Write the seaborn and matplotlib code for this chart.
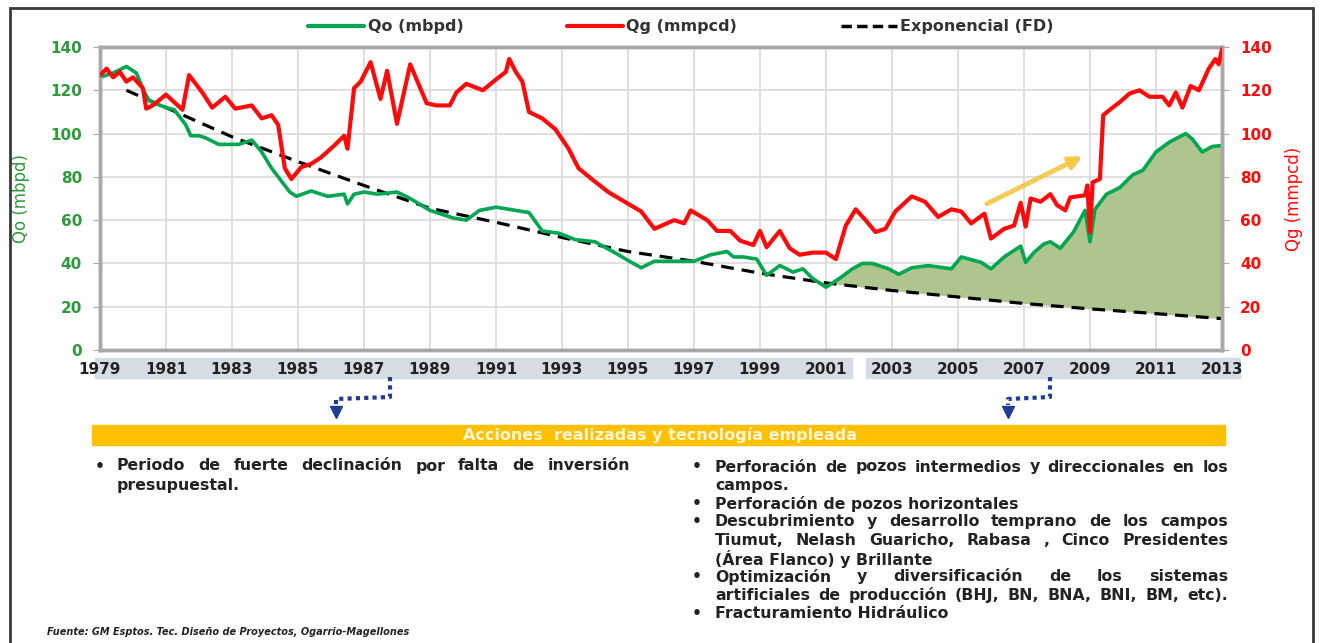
import numpy as np
import pandas as pd
import matplotlib
matplotlib.use("Agg")
import matplotlib.pyplot as plt
import seaborn as sns
from matplotlib.lines import Line2D
from matplotlib.patches import Rectangle

# Qo (mbpd)
qo_year = [1979.0, 1979.4, 1979.8, 1980.1, 1980.35, 1980.5, 1981.0, 1981.25, 1981.6, 1981.75,
           1982.0, 1982.2, 1982.6, 1983.2, 1983.6, 1983.9, 1984.2, 1984.5, 1984.75, 1984.95,
           1985.4, 1985.9, 1986.4, 1986.5, 1986.7, 1987.0, 1987.4, 1988.0, 1988.4, 1989.0,
           1989.7, 1990.1, 1990.5, 1991.0, 1991.4, 1991.8, 1992.0, 1992.4, 1992.9, 1993.4,
           1994.0, 1994.6, 1995.1, 1995.4, 1995.8, 1996.3, 1997.0, 1997.5, 1998.0, 1998.2,
           1998.5, 1998.9, 1999.2, 1999.6, 2000.0, 2000.3, 2000.6, 2001.0, 2001.4, 2001.8,
           2002.1, 2002.4, 2002.9, 2003.2, 2003.6, 2004.1, 2004.8, 2005.1, 2005.7, 2006.0,
           2006.4, 2006.9, 2007.05, 2007.3, 2007.6, 2007.8, 2008.1, 2008.5, 2008.85, 2009.0,
           2009.15, 2009.5, 2009.9, 2010.3, 2010.6, 2011.0, 2011.4, 2011.9, 2012.1, 2012.4,
           2012.7, 2013.0]
qo_vals = [126, 128, 131, 128, 119, 115, 112, 111, 104, 99,
           99, 98, 95, 95, 97, 91.5, 84, 78, 73, 71,
           73.5, 71, 72, 67.5, 72, 73, 72, 73, 70, 64.5,
           61, 60, 64.5, 66, 65, 64, 63.5, 55, 54, 51,
           50, 45, 40.5, 38, 41, 41, 41, 44, 45.5, 43,
           43, 42, 34.5, 39, 36, 37.5, 33, 29, 33, 37.5,
           40, 40, 37.5, 35, 38, 39, 37.5, 43, 40.5, 37.5,
           43, 48, 40.5, 45, 49, 50, 47, 54.5, 64.5, 50,
           65, 72, 75, 81, 83, 91.5, 96, 100, 97.5, 91.5,
           94, 94.5]

# Qg (mmpcd)
qg_year = [1979.0, 1979.2, 1979.4, 1979.6, 1979.8, 1980.0, 1980.3, 1980.4, 1980.6, 1981.0,
           1981.25, 1981.5, 1981.7, 1982.1, 1982.4, 1982.8, 1983.1, 1983.6, 1983.9, 1984.2,
           1984.4, 1984.6, 1984.8, 1985.1, 1985.4, 1985.7, 1986.1, 1986.4, 1986.5, 1986.7,
           1986.9, 1987.2, 1987.5, 1987.7, 1988.0, 1988.4, 1988.9, 1989.2, 1989.6, 1989.8,
           1990.1, 1990.6, 1991.0, 1991.3, 1991.4, 1991.6, 1991.8, 1992.0, 1992.4, 1992.8,
           1993.2, 1993.5, 1993.9, 1994.4, 1994.9, 1995.4, 1995.8, 1996.1, 1996.4, 1996.7,
           1996.9, 1997.4, 1997.7, 1998.1, 1998.4, 1998.8, 1999.0, 1999.2, 1999.6, 1999.9,
           2000.2, 2000.6, 2001.0, 2001.3, 2001.6, 2001.9, 2002.2, 2002.5, 2002.8, 2003.1,
           2003.6, 2004.0, 2004.4, 2004.8, 2005.1, 2005.4, 2005.8, 2006.0, 2006.4, 2006.7,
           2006.9, 2007.05, 2007.2, 2007.5, 2007.8, 2008.0, 2008.25, 2008.4, 2008.85, 2008.92,
           2009.0, 2009.08, 2009.3, 2009.4, 2009.6, 2009.9, 2010.2, 2010.5, 2010.8, 2011.2,
           2011.4, 2011.6, 2011.8, 2012.05, 2012.3, 2012.6, 2012.8, 2012.9, 2013.0]
qg_vals = [127, 130, 126, 128.5, 124, 126, 121, 111.5, 113, 118,
           114.5, 111, 127, 119, 112, 117, 111.5, 113, 107, 108.5,
           104, 84, 79, 84.5, 86, 89, 94.5, 99, 93, 121,
           124, 133, 116, 129, 104.5, 132, 114, 113, 113, 119,
           123, 120, 125, 128.5, 134.5, 128.5, 124, 110, 107, 102,
           93, 84, 79, 73, 68.5, 64, 56, 58, 60, 58.5,
           64.5, 60, 55, 55, 50.5, 48.5, 55, 47.5, 55, 47,
           44, 45, 45, 42, 57.5, 65, 60, 54.5, 56, 64,
           71, 68.5, 61.5, 65, 64, 58.5, 63, 51.5, 56, 57.5,
           68, 57, 70, 68.5, 72, 67, 64.5, 70.5, 71.5, 76,
           54.5, 77.5, 79, 108.5, 111, 114.5, 118.5, 120, 117, 117,
           113, 119, 112, 122, 120, 130, 134.5, 132, 139]

# Exponencial (FD)
exp_year = [1979.8, 1981, 1983, 1985, 1987, 1989, 1991, 1993, 1995, 1997,
            1999, 2001, 2003, 2005, 2007, 2009, 2011, 2013]
exp_vals = [120, 112, 98.5, 87, 76, 65.5, 59, 52, 45.5, 41,
            35.5, 31, 27.5, 24.5, 21.5, 19, 16.8, 14.5]

legend_labels = ["Qo (mbpd)", "Qg (mmpcd)", "Exponencial (FD)"]
year_ticks = list(range(1979, 2014, 2))
rate_ticks = list(range(0, 141, 20))

GREEN = "#00a650"
GREEN_TXT = "#2f9a3c"
RED = "#ff0a0a"
FILL = "#aec58e"
NAVY = "#1f3c94"
W, H = 1320, 643


def fx(px):
    return px / W


def fy(py):
    return 1 - py / H


sns.set_style("white")
plt.rcParams["font.family"] = ["DejaVu Sans"]

fig = plt.figure(figsize=(13.2, 6.43), dpi=100)
ax = fig.add_axes([fx(100), fy(350), (1222 - 100) / W, (350 - 47) / H])
ax2 = ax.twinx()

qo_df = pd.DataFrame({"year": qo_year, "qo": qo_vals})
qg_df = pd.DataFrame({"year": qg_year, "qg": qg_vals})
exp_df = pd.DataFrame({"year": exp_year, "exp": exp_vals})

# area between production and the decline curve after 2001
exp_on_qo = np.interp(qo_df["year"], exp_df["year"], exp_df["exp"])
ax.fill_between(qo_df["year"], exp_on_qo, qo_df["qo"],
                where=qo_df["year"] >= 2001.2, interpolate=True,
                color=FILL, lw=0, zorder=1)

sns.lineplot(data=exp_df, x="year", y="exp", ax=ax, color="black", lw=2.3,
             linestyle=(0, (4, 2.5)), zorder=3, legend=False)
sns.lineplot(data=qo_df, x="year", y="qo", ax=ax, color=GREEN, lw=2.6,
             zorder=4, legend=False)
sns.lineplot(data=qg_df, x="year", y="qg", ax=ax2, color=RED, lw=3,
             zorder=4, legend=False)

ax.set_xlim(1979, 2013)
ax.set_ylim(0, 140)
ax2.set_ylim(0, 140)
ax.set_xticks(year_ticks)
ax.set_yticks(rate_ticks)
ax2.set_yticks(rate_ticks)
ax.grid(True, color="#d9d9d9", lw=1.2)
ax.set_axisbelow(True)
for a in (ax, ax2):
    for s in a.spines.values():
        s.set_color("#a8a8a8")
        s.set_linewidth(2.5)

ax.tick_params(axis="x", length=0, pad=9, labelsize=11, labelcolor="#222222")
ax.tick_params(axis="y", length=5, color="#a8a8a8", pad=8, labelsize=11, labelcolor=GREEN_TXT)
ax2.tick_params(axis="y", length=5, color="#a8a8a8", pad=8, labelsize=11, labelcolor=RED)
for lab in ax.get_xticklabels() + ax.get_yticklabels() + ax2.get_yticklabels():
    lab.set_fontweight("bold")

ax.set_xlabel("")
ax.set_ylabel("Qo (mbpd)", color=GREEN_TXT, fontsize=12)
ax.yaxis.set_label_coords(-0.062, 0.5)
ax2.set_ylabel("Qg (mmpcd)", color=RED, fontsize=12)
ax2.yaxis.set_label_coords(1.056, 0.5)

# yellow arrow
ax.annotate("", xy=(2008.85, 90), xytext=(2005.8, 67),
            arrowprops=dict(arrowstyle="-|>", color="#f2c744", lw=3.5,
                            mutation_scale=18, alpha=0.9), zorder=5)

handles = [Line2D([], [], color=GREEN, lw=3),
           Line2D([], [], color=RED, lw=3),
           Line2D([], [], color="black", lw=2.5, linestyle=(0, (3, 1.5)))]
fig.legend(handles, legend_labels, loc="center", bbox_to_anchor=(fx(681), fy(27)),
           ncol=3, frameon=False, handlelength=3.5, handletextpad=0.2,
           columnspacing=6.5, prop=dict(weight="bold", size=11.5),
           labelcolor="#333333")

# band behind the year labels
for x0, x1 in [(95, 852), (866, 1240)]:
    fig.add_artist(Rectangle((fx(x0), fy(378)), fx(x1) - fx(x0), 20 / H,
                             transform=fig.transFigure, color="#d6dce4", zorder=-1))

# dotted elbow arrows
for xa, xb in [(390, 336), (1050, 1008)]:
    fig.add_artist(Line2D([fx(xa), fx(xa), fx(xb), fx(xb)],
                          [fy(377), fy(397), fy(399), fy(405)],
                          transform=fig.transFigure, color=NAVY, lw=3,
                          ls=(0, (1, 1))))
    fig.add_artist(Line2D([fx(xb)], [fy(412)], marker="v", ms=9, color=NAVY,
                          transform=fig.transFigure))

# banner
fig.add_artist(Rectangle((fx(92), fy(445)), fx(1225) - fx(92), 20 / H,
                         transform=fig.transFigure, color="#ffc000"))
fig.text(fx(660), fy(435), "Acciones  realizadas y tecnología empleada",
         ha="center", va="center", color="#fff6d8", weight="bold", size=11.5)

renderer = fig.canvas.get_renderer()
txt_kw = dict(size=11.3, weight="bold", color="#222222", va="center", ha="left")


def put_line(text, x0, y, x1=None):
    if x1 is None:
        fig.text(fx(x0), fy(y), text, **txt_kw)
        return
    words = text.split()
    arts = [fig.text(0, fy(y), w, **txt_kw) for w in words]
    widths = [a.get_window_extent(renderer).width for a in arts]
    gap = max((x1 - x0 - sum(widths)) / (len(words) - 1), 4)
    x = x0
    for a, w in zip(arts, widths):
        a.set_x(fx(x))
        x += w + gap


left_lines = [("Periodo de fuerte declinación por falta de inversión", True, True),
              ("presupuestal.", False, False)]
right_lines = [("Perforación de pozos intermedios y direccionales en los", True, True),
               ("campos.", False, False),
               ("Perforación de pozos horizontales", True, False),
               ("Descubrimiento y desarrollo temprano de los campos", True, True),
               ("Tiumut, Nelash Guaricho, Rabasa , Cinco Presidentes", False, True),
               ("(Área Flanco) y Brillante", False, False),
               ("Optimización y diversificación de los sistemas", True, True),
               ("artificiales de producción (BHJ, BN, BNA, BNI, BM, etc).", False, True),
               ("Fracturamiento Hidráulico", True, False)]

for i, (t, bullet, just) in enumerate(left_lines):
    y = 466 + i * 19.5
    if bullet:
        fig.text(fx(95), fy(y), "•", **txt_kw)
    put_line(t, 117, y, 630 if just else None)

for i, (t, bullet, just) in enumerate(right_lines):
    y = 467 + i * 18.3
    if bullet:
        fig.text(fx(692), fy(y), "•", **txt_kw)
    put_line(t, 715, y, 1228 if just else None)

fig.text(fx(47), fy(632), "Fuente: GM Esptos. Tec. Diseño de Proyectos, Ogarrio-Magellones",
         size=7, weight="bold", style="italic", color="#222222", va="center")

# outer frame
fig.add_artist(Rectangle((fx(10), -0.02), fx(1313) - fx(10), fy(8) + 0.02,
                         transform=fig.transFigure, fill=False, ec="#3a3a3a", lw=2))

fig.savefig("out.png", dpi=100)
